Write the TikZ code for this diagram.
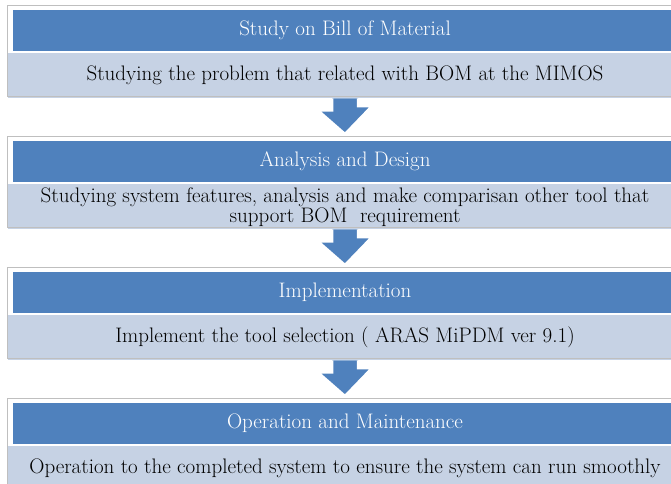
\documentclass[tikz,border=0pt]{standalone}
\definecolor{StepBlue}{HTML}{4F81BD}
\definecolor{StepLight}{HTML}{C6D2E4}
\usetikzlibrary{positioning}

\begin{document}
\begin{tikzpicture}[x=1pt,y=-1pt,font=\fontsize{21}{20}\selectfont,
  header/.style={rectangle,fill=StepBlue,draw=white,line width=4pt,
    minimum width=668pt,minimum height=45pt,inner sep=0pt,text=white},
  band/.style={rectangle,fill=StepLight,minimum width=674pt,
    minimum height=45pt,inner sep=0pt,align=center,text=black},
  frame/.style={draw=black!25,line width=0.6pt},
  bigarrow/.style={fill=StepBlue,draw=white,line width=2.5pt,line join=miter}]
  \useasboundingbox (0,0) rectangle (671,483);

  % Step 1: Study on Bill of Material
  \node[header] (head1) at (345,30.5) {Study on Bill of Material};
  \node[band,below=-2pt of head1] (band1)
    {Studying the problem that related with BOM at the MIMOS};
  \draw[frame] (7.5,5) rectangle (682.5,96);

  % Step 2: Analysis and Design
  \node[header] (head2) at (345,161.5) {Analysis and Design};
  \node[band,below=-2pt of head2] (band2)
    {Studying system features, analysis and make comparisan other tool that\\
     support BOM\ \ requirement};
  \draw[frame] (7.5,136) rectangle (682.5,227);

  % Step 3: Implementation
  \node[header] (head3) at (345,292.5) {Implementation};
  \node[band,below=-2pt of head3] (band3)
    {Implement the tool selection ( ARAS MiPDM ver 9.1)};
  \draw[frame] (7.5,267) rectangle (682.5,358);

  % Step 4: Operation and Maintenance
  \node[header] (head4) at (345,423.5) {Operation and Maintenance};
  \node[band,below=-2pt of head4] (band4)
    {Operation to the completed system to ensure the system can run smoothly};
  \draw[frame] (7.5,398) rectangle (682.5,489);

  % Arrows between the steps
  \filldraw[bigarrow] ([xshift=-13pt]band1.south) -- ++(0,12) -- ++(-14,0)
    -- ([yshift=3pt]head2.north) -- ++(27,-28) -- ++(-14,0)
    -- ([xshift=13pt]band1.south);
  \filldraw[bigarrow] ([xshift=-13pt]band2.south) -- ++(0,12) -- ++(-14,0)
    -- ([yshift=3pt]head3.north) -- ++(27,-28) -- ++(-14,0)
    -- ([xshift=13pt]band2.south);
  \filldraw[bigarrow] ([xshift=-13pt]band3.south) -- ++(0,12) -- ++(-14,0)
    -- ([yshift=3pt]head4.north) -- ++(27,-28) -- ++(-14,0)
    -- ([xshift=13pt]band3.south);
\end{tikzpicture}
\end{document}
